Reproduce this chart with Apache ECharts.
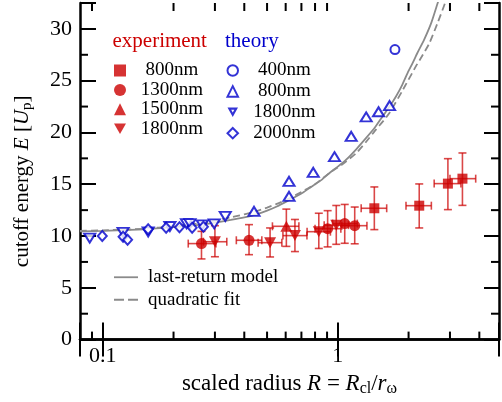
<!DOCTYPE html>
<html>
<head>
<meta charset="utf-8">
<script src="https://cdn.jsdelivr.net/npm/echarts@6/dist/echarts.min.js"></script>
<style>html,body{margin:0;padding:0;background:#fff}#c{width:502px;height:402px}</style>
</head>
<body>
<div id="c"></div>
<script>
// ---------- data ----------
// theory (blue, hollow): [R, E]
const theory400 = [[1.75, 28.0]];
const theory800 = [[0.44, 12.38], [0.62, 13.83], [0.62, 15.28], [0.786, 16.15], [0.968, 17.66],
  [1.14, 19.63], [1.32, 21.5], [1.49, 22.0], [1.66, 22.6]];
const theory1800 = [[0.088, 9.8], [0.122, 10.35], [0.156, 10.4], [0.193, 10.92], [0.227, 11.2],
  [0.235, 11.2], [0.265, 11.07], [0.298, 11.18], [0.332, 11.9]];
const theory2000 = [[0.0995, 10.0], [0.122, 9.92], [0.1275, 9.65], [0.156, 10.65], [0.186, 10.8],
  [0.212, 10.85], [0.24, 10.8], [0.268, 10.9]];
// experiment (red, filled): [R, E, Rlow, Rhigh, Elow, Ehigh]
const exp800 = [[1.43, 12.68, 1.257, 1.614, 10.62, 14.74], [2.22, 12.93, 1.95, 2.5, 10.78, 15.03],
  [2.94, 15.06, 2.57, 3.34, 12.55, 17.47], [3.39, 15.54, 3.0, 3.86, 12.96, 18.02]];
const exp1300 = [[0.263, 9.27, 0.231, 0.303, 7.79, 10.45], [0.419, 9.59, 0.37, 0.475, 8.2, 11.1],
  [0.905, 10.71, 0.80, 1.03, 8.95, 12.45], [1.07, 11.2, 0.95, 1.21, 9.3, 13.05],
  [1.18, 11.0, 1.04, 1.33, 9.25, 12.8]];
const exp1500 = [[0.604, 10.94, 0.527, 0.683, 9.0, 12.6]];
const exp1800 = [[0.30, 9.45, 0.268, 0.337, 8.0, 11.0], [0.515, 9.36, 0.458, 0.578, 7.98, 10.78],
  [0.657, 10.04, 0.584, 0.739, 8.5, 11.6], [0.83, 10.42, 0.74, 0.93, 8.8, 12.2],
  [0.985, 11.05, 0.875, 1.11, 9.2, 12.95]];
// model curves: [R, E]
const lastReturn = [[0.08, 10.45], [0.1, 10.5], [0.15, 10.65], [0.2, 10.85], [0.25, 11.05], [0.3, 11.3],
  [0.35, 11.55], [0.4, 11.8], [0.45, 12.1], [0.5, 12.45], [0.55, 12.85], [0.624, 13.5], [0.7, 14.1],
  [0.758, 14.64], [0.85, 15.4], [0.922, 16.09], [1.0, 16.7], [1.085, 17.37], [1.2, 18.4], [1.32, 19.47],
  [1.44, 20.5], [1.55, 21.55], [1.66, 22.5], [1.77, 23.5], [1.88, 24.6], [1.98, 25.74], [2.08, 26.7],
  [2.18, 27.67], [2.33, 28.96], [2.5, 30.6], [2.66, 32.5], [2.72, 33.2]];
const quadFit = [[0.08, 10.5], [0.1, 10.55], [0.15, 10.7], [0.2, 10.95], [0.25, 11.2], [0.3, 11.5],
  [0.35, 11.8], [0.4, 12.1], [0.45, 12.4], [0.5, 12.75], [0.55, 13.1], [0.624, 13.65], [0.7, 14.25],
  [0.8, 15.0], [0.864, 15.6], [0.95, 16.3], [1.05, 16.95], [1.197, 18.0], [1.32, 19.1], [1.455, 20.3],
  [1.56, 21.1], [1.66, 21.9], [1.89, 24.1], [2.15, 26.4], [2.3, 27.5], [2.45, 28.6], [2.65, 30.5],
  [2.86, 32.5], [2.92, 33.1]];
// axes
const xMin = 0.08, xMax = 4.85, yMin = 0, yMax = 32.5;
const xMajorLabels = [0.1, 1];
const xMinorTicks = [0.09, 0.2, 0.3, 0.4, 0.5, 0.6, 0.7, 0.8, 0.9, 2, 3, 4];
const yMinorTicks = [2.5, 7.5, 12.5, 17.5, 22.5, 27.5];
const legendLabels = {
  e800: '800nm', e1300: '1300nm', e1500: '1500nm', e1800: '1800nm',
  t400: '400nm', t800: '800nm', t1800: '1800nm', t2000: '2000nm',
  last: 'last-return model', quad: 'quadratic fit'
};

// ---------- chart ----------
const FONT = 'Liberation Serif';
const RED = '#cc0000', BLUE = '#0000cc', GRAY = '#8a8a8a';
const chart = echarts.init(document.getElementById('c'), null, {renderer: 'canvas'});

const axisLineStyle = {lineStyle: {color: '#000', width: 2.5}};
const tickStyle = {lineStyle: {color: '#000', width: 2}};

function errRender(params, api) {
  const R = api.value(0), E = api.value(1), Rl = api.value(2), Rh = api.value(3), El = api.value(4), Eh = api.value(5);
  const l = api.coord([Rl, E]), r = api.coord([Rh, E]), t = api.coord([R, Eh]), b = api.coord([R, El]);
  const cap = 4;
  const st = {stroke: 'rgba(204,0,0,0.72)', lineWidth: 1.6};
  const L = (x1, y1, x2, y2) => ({type: 'line', shape: {x1, y1, x2, y2}, style: st});
  return {type: 'group', children: [
    L(l[0], l[1], r[0], r[1]),
    L(t[0], t[1], b[0], b[1]),
    L(l[0], l[1] - cap, l[0], l[1] + cap),
    L(r[0], r[1] - cap, r[0], r[1] + cap),
    L(t[0] - cap, t[1], t[0] + cap, t[1]),
    L(b[0] - cap, b[1], b[0] + cap, b[1])
  ]};
}

function xMinorRender(params, api) {
  const v = api.value(0);
  const b = api.coord([v, yMin]), t = api.coord([v, yMax]);
  return {type: 'group', children: [
    {type: 'line', shape: {x1: b[0], y1: b[1], x2: b[0], y2: b[1] - 8}, style: {stroke: '#000', lineWidth: 2}},
    {type: 'line', shape: {x1: t[0], y1: t[1], x2: t[0], y2: t[1] + 8}, style: {stroke: '#000', lineWidth: 2}}
  ]};
}
function yMinorRender(params, api) {
  const v = api.value(1);
  const l = api.coord([xMin, v]), r = api.coord([xMax, v]);
  return {type: 'group', children: [
    {type: 'line', shape: {x1: l[0], y1: l[1], x2: l[0] + 8, y2: l[1]}, style: {stroke: '#000', lineWidth: 2}},
    {type: 'line', shape: {x1: r[0], y1: r[1], x2: r[0] - 8, y2: r[1]}, style: {stroke: '#000', lineWidth: 2}}
  ]};
}

const xNameRich = {
  n: {fontFamily: FONT, fontSize: 23, color: '#000'},
  i: {fontFamily: FONT, fontSize: 23, fontStyle: 'italic', color: '#000'},
  s: {fontFamily: FONT, fontSize: 16, color: '#000', padding: [10, 0, 0, 0]}
};
const yNameRich = {
  n: {fontFamily: FONT, fontSize: 21, color: '#000'},
  i: {fontFamily: FONT, fontSize: 21, fontStyle: 'italic', color: '#000'},
  s: {fontFamily: FONT, fontSize: 15, color: '#000', padding: [10, 0, 0, 0]}
};

const legendCommon = {
  orient: 'vertical', padding: 0, itemWidth: 12, itemHeight: 12, itemGap: 0.4,
  formatter: n => '{t|' + legendLabels[n] + '}',
  textStyle: {fontFamily: FONT, fontSize: 19, color: '#000',
    rich: {t: {fontFamily: FONT, fontSize: 19, color: '#000', width: 82, align: 'center', lineHeight: 21}}},
  selectedMode: false
};

// legend icon shapes (unit outlines)
const DOWN_TRI = 'path://M0,0L12,0L6,10.4Z';
const HOLLOW_DOWN_TRI = 'path://M0,0L12,0L6,11Z M4.21,2.5L6,5.78L7.79,2.5Z';
const LINE_SOLID = 'path://M0,0H24V1.8H0Z';
const LINE_DASH = 'path://M0,0H10V1.8H0Z M14,0H24V1.8H14Z';

const scatterBase = {type: 'scatter', z: 4, silent: true, emphasis: {disabled: true}};

chart.setOption({
  animation: false,
  backgroundColor: '#fff',
  grid: {left: 80, right: 2, top: 3, bottom: 62, containLabel: false},
  xAxis: [
    {type: 'log', logBase: 10, min: xMin, max: xMax, position: 'bottom',
     axisLine: axisLineStyle, axisTick: Object.assign({inside: true, length: 17}, tickStyle),
     splitLine: {show: false},
     axisLabel: {fontFamily: FONT, fontSize: 22, color: '#000', margin: 6,
       formatter: v => { for (const m of xMajorLabels) if (Math.abs(v - m) < 1e-9 * m + 1e-12) return String(m); return ''; }},
     name: '{n|scaled radius }{i|R}{n| = }{i|R}{s|cl}{n|/}{i|r}{s|ω}',
     nameLocation: 'middle', nameGap: 30, nameTextStyle: {rich: xNameRich}},
    {type: 'log', logBase: 10, min: xMin, max: xMax, position: 'top',
     axisLine: axisLineStyle, axisTick: Object.assign({inside: true, length: 17}, tickStyle),
     splitLine: {show: false}, axisLabel: {show: false}}
  ],
  yAxis: [
    {type: 'value', min: yMin, max: yMax, interval: 5, position: 'left',
     axisLine: Object.assign({show: true}, axisLineStyle), axisTick: Object.assign({show: true, inside: true, length: 16}, tickStyle),
     splitLine: {show: false},
     axisLabel: {fontFamily: FONT, fontSize: 22, color: '#000', margin: 8,
       formatter: v => (Math.abs(v % 5) < 1e-9 ? String(v) : '')},
     name: '{n|cutoff energy }{i|E}{n| [}{i|U}{s|p}{n|]}',
     nameLocation: 'middle', nameGap: 45, nameTextStyle: {rich: yNameRich, padding: [0, 20, 0, 0]}},
    {type: 'value', min: yMin, max: yMax, interval: 5, position: 'right',
     axisLine: Object.assign({show: true}, axisLineStyle), axisTick: Object.assign({show: true, inside: true, length: 15}, tickStyle),
     splitLine: {show: false}, axisLabel: {show: false}}
  ],
  legend: [
    Object.assign({}, legendCommon, {left: 114, top: 61,
      data: ['e800', 'e1300', 'e1500', {name: 'e1800', icon: DOWN_TRI}]}),
    Object.assign({}, legendCommon, {left: 226.5, top: 61, itemWidth: 10.5, itemHeight: 10.5, itemGap: 1.9,
      textStyle: {fontFamily: FONT, fontSize: 19, color: '#000',
        rich: {t: {fontFamily: FONT, fontSize: 19, color: '#000', width: 83, align: 'center', lineHeight: 21}}},
      data: ['t400', 't800', {name: 't1800', icon: HOLLOW_DOWN_TRI}, 't2000']}),
    Object.assign({}, legendCommon, {left: 114, top: 266.5, itemWidth: 24, itemHeight: 14, itemGap: 1,
      data: [{name: 'last', icon: LINE_SOLID}, {name: 'quad', icon: LINE_DASH}],
      formatter: n => legendLabels[n],
      textStyle: {fontFamily: FONT, fontSize: 19, color: '#000', lineHeight: 21.5, padding: [0, 0, 0, 5]}})
  ],
  graphic: [
    {type: 'text', left: 112.5, top: 31, silent: true,
     style: {text: 'experiment', fill: RED, font: '21px "Liberation Serif"'}},
    {type: 'text', left: 225, top: 31, silent: true,
     style: {text: 'theory', fill: BLUE, font: '21px "Liberation Serif"'}}
  ],
  series: [
    {type: 'line', name: 'last', data: lastReturn, symbol: 'none', smooth: 0.2, z: 2, silent: true,
     lineStyle: {color: GRAY, width: 1.8}, itemStyle: {color: GRAY}},
    {type: 'line', name: 'quad', data: quadFit, symbol: 'none', smooth: 0.2, z: 2, silent: true,
     lineStyle: {color: GRAY, width: 1.8, type: [7, 4]}, itemStyle: {color: GRAY}},
    {type: 'custom', name: 'errbars', renderItem: errRender, z: 3, silent: true,
     encode: {x: 0, y: 1}, data: [].concat(exp800, exp1300, exp1500, exp1800)},
    Object.assign({}, scatterBase, {name: 'e800', symbol: 'rect', symbolSize: 10, itemStyle: {color: RED}, data: exp800.map(d => [d[0], d[1]])}),
    Object.assign({}, scatterBase, {name: 'e1300', symbol: 'circle', symbolSize: 11, itemStyle: {color: RED}, data: exp1300.map(d => [d[0], d[1]])}),
    Object.assign({}, scatterBase, {name: 'e1500', symbol: 'triangle', symbolSize: [12, 11], itemStyle: {color: RED}, data: exp1500.map(d => [d[0], d[1]])}),
    Object.assign({}, scatterBase, {name: 'e1800', symbol: 'triangle', symbolRotate: 180, symbolSize: [12, 11], itemStyle: {color: RED}, data: exp1800.map(d => [d[0], d[1]])}),
    Object.assign({}, scatterBase, {name: 't400', symbol: 'emptyCircle', symbolSize: 9, itemStyle: {color: BLUE}, data: theory400}),
    Object.assign({}, scatterBase, {name: 't800', symbol: 'emptyTriangle', symbolSize: [11, 9], itemStyle: {color: BLUE}, data: theory800}),
    Object.assign({}, scatterBase, {name: 't1800', symbol: 'emptyTriangle', symbolRotate: 180, symbolSize: [11, 9], itemStyle: {color: BLUE}, data: theory1800}),
    Object.assign({}, scatterBase, {name: 't2000', symbol: 'emptyDiamond', symbolSize: [9, 10], itemStyle: {color: BLUE}, data: theory2000}),
    {type: 'custom', name: 'xminor', renderItem: xMinorRender, clip: false, silent: true, z: 5,
     encode: {x: 0, y: 1}, data: xMinorTicks.map(v => [v, yMin])},
    {type: 'custom', name: 'yminor', renderItem: yMinorRender, clip: false, silent: true, z: 5,
     encode: {x: 0, y: 1}, data: yMinorTicks.map(v => [xMin, v])}
  ]
});
</script>
</body>
</html>
